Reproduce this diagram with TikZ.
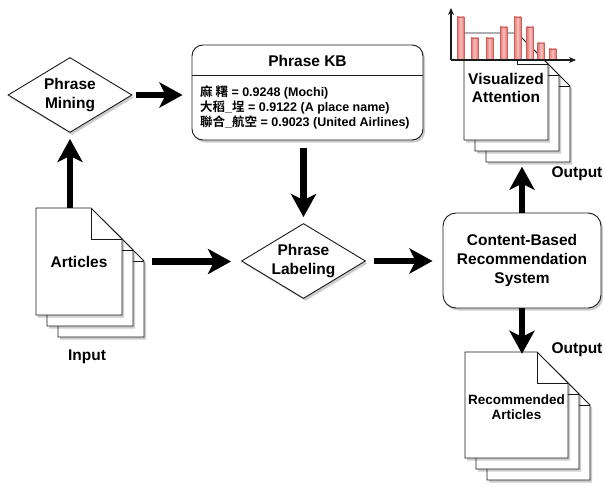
\documentclass[tikz,border=0pt]{standalone}
\usepackage{fontspec}
\setmainfont{Liberation Sans}
\newfontfamily\cjk{Noto Sans CJK TC}[BoldFont={Noto Sans CJK TC Bold}]
\usepackage{tikz}
\usetikzlibrary{arrows.meta,positioning,shapes.geometric,shadows,calc}
\definecolor{ink}{HTML}{1A1A1A}
\definecolor{barfill}{HTML}{F6C2BF}
\definecolor{bardeep}{HTML}{E8706C}
\definecolor{barline}{HTML}{C8625E}
\newcommand\boxfont{\fontsize{15.5}{18.5}\selectfont\bfseries}
\newcommand\sysfont{\fontsize{15.5}{19}\selectfont\bfseries}
\newcommand\entryfont{\fontsize{12.5}{15}\selectfont\bfseries}
\newcommand\docfont{\fontsize{13.5}{15.5}\selectfont\bfseries}
\tikzset{
  softshadow/.style={drop shadow={shadow xshift=2pt,shadow yshift=-2.5pt,
                     opacity=0.2,fill=black}},
  stepdiamond/.style={diamond,draw=ink,fill=white,line width=0.9pt,
                      aspect=1.65,inner sep=0pt,minimum width=124pt,
                      minimum height=75pt,align=center,font=\boxfont,softshadow},
  kbcard/.style={draw=ink,fill=white,line width=0.9pt,rounded corners=11pt,
                 minimum width=231pt,minimum height=95pt,softshadow},
  syscard/.style={draw=ink,fill=white,line width=0.9pt,rounded corners=13pt,
                  minimum width=158pt,minimum height=95pt,align=center,
                  font=\sysfont,softshadow},
  pageline/.style={draw=ink,fill=white,line width=0.9pt},
  pagetext/.style={inner sep=0pt,align=center,font=\boxfont},
  plainlabel/.style={inner sep=0pt,font=\boxfont},
  attnbar/.style={draw=barline,line width=0.5pt,left color=bardeep,
                  right color=bardeep,middle color=barfill},
  axisline/.style={draw=ink,line width=1.1pt},
  flowarr/.style={-{Stealth[length=23pt,width=25pt,inset=6pt]},line width=6.5pt},
  pics/pagestack/.style n args={2}{code={
    \foreach \off in {22,11,0}{
      \draw[pageline,softshadow,shift={(\off,\off)}]
        (0,0) -- ({#1-31},0) -- (#1,31) -- (#1,#2) -- (0,#2) -- cycle;
      \draw[pageline,fill=none,shift={(\off,\off)}]
        ({#1-31},0) -- ({#1-31},31) -- (#1,31);
    }
  }}
}
\begin{document}
\begin{tikzpicture}[x=1pt,y=-1pt,>=Latex]
  \useasboundingbox[fill=white] (0,0) rectangle (603,487);
  % knowledge base
  \node[kbcard] (kb) at (307.5,92.5) {};
  \node[plainlabel] (kbtitle) at (307.5,61) {Phrase KB};
  \coordinate (kbrule) at (307.5,75);
  \draw[draw=ink,line width=0.9pt] (kb.west |- kbrule) -- (kb.east |- kbrule);
  \node[inner sep=0pt,anchor=west,align=left,font=\entryfont] (kbentries) at (200,107.5)
    {{\cjk 麻 糬} = 0.9248 (Mochi)\\
     {\cjk 大稻}\_{\cjk 埕} = 0.9122 (A place name)\\
     {\cjk 聯合}\_{\cjk 航空} = 0.9023 (United Airlines)};
  % input articles
  \pic at (36,208) {pagestack={86}{107}};
  \node[pagetext,minimum width=86pt,minimum height=107pt] (articles) at (79,261.5) {Articles};
  \node[plainlabel] (inputlbl) at (87,357) {Input};
  % mining and labeling
  \node[stepdiamond] (mining) at (70,95) {Phrase\\Mining};
  \node[stepdiamond] (labeling) at (303.5,261) {Phrase\\Labeling};
  % recommender
  \node[syscard] (cbrs) at (522,260.5) {Content-Based\\Recommendation\\System};
  % visualized attention
  \pic at (464,33) {pagestack={84}{107}};
  \node[pagetext,minimum width=84pt,minimum height=107pt] (attn) at (506,88) {Visualized\\Attention};
  \foreach \bx/\btop in {460.5/17,474.5/38,489.5/38,503.5/27,517.5/17,530/27,541/43,552.5/49}
    \draw[attnbar] (\bx-3.5,60) rectangle (\bx+3.5,\btop);
  \draw[axisline,-{Stealth[length=7pt,width=6pt]}] (451,60) -- (451,8);
  \draw[axisline,-{Stealth[length=7pt,width=6pt]}] (451,60) -- (576,60);
  \node[plainlabel] (outtop) at (577,174) {Output};
  % recommended articles
  \pic at (465,352) {pagestack={103}{106}};
  \node[pagetext,font=\docfont,minimum width=103pt,minimum height=106pt] (recs) at (516.5,407)
    {Recommended\\Articles};
  \node[plainlabel] (outbottom) at (577,350) {Output};
  % flow
  \draw[flowarr,shorten <=4pt,shorten >=9pt] (mining.east) -- (mining.east -| kb.west);
  \draw[flowarr,shorten >=6pt] (articles.north -| mining.south) -- (mining.south);
  \draw[flowarr,shorten <=8pt,shorten >=6pt] (kb.south -| labeling.north) -- (labeling.north);
  \draw[flowarr,shorten <=30pt,shorten >=10pt] (articles.east) -- (articles.east -| labeling.west);
  \draw[flowarr,shorten <=8pt,shorten >=10pt] (labeling.east) -- (labeling.east -| cbrs.west);
  \draw[flowarr,shorten >=25pt] (cbrs.north) -- (cbrs.north |- attn.south);
  \draw[flowarr] (cbrs.south) -- (cbrs.south |- recs.north);
\end{tikzpicture}
\end{document}
